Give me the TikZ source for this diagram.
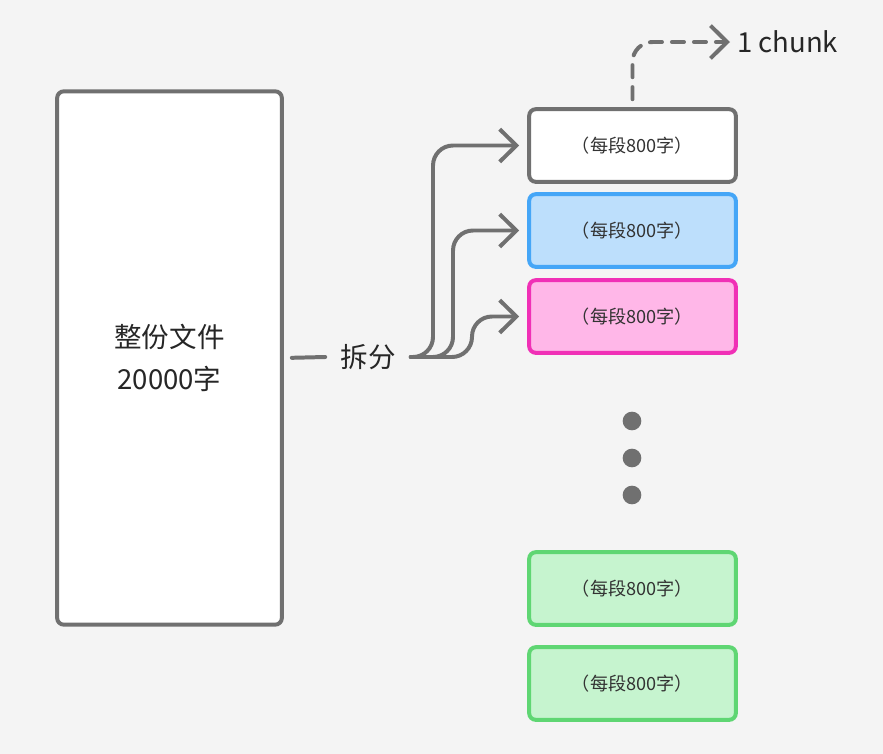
\documentclass[tikz,border=0pt]{standalone}
\usepackage{fontspec}
\setmainfont{Noto Sans CJK SC}
\usetikzlibrary{arrows.meta}
\definecolor{bgcol}{HTML}{F4F4F4}
\definecolor{linegray}{HTML}{707070}
\definecolor{txtgray}{HTML}{333333}
\definecolor{blueline}{HTML}{45A6F7}
\definecolor{bluefill}{HTML}{BDDFFC}
\definecolor{pinkline}{HTML}{F030B6}
\definecolor{pinkfill}{HTML}{FFB7E8}
\definecolor{greenline}{HTML}{5FD673}
\definecolor{greenfill}{HTML}{C6F4CF}
\begin{document}
\begin{tikzpicture}[x=0.03cm, y=-0.03cm,
  box/.style={draw=linegray, line width=3.4pt, rounded corners=0.2cm,
    minimum width=6.2cm, minimum height=2.18cm, inner sep=0pt,
    font=\fontsize{15.5}{18}\selectfont, text=txtgray},
  conn/.style={draw=linegray, line width=3.4pt, line cap=round, line join=round,
    -{Straight Barb[length=0.5cm,width=0.98cm]}},
  dot/.style={circle, fill=linegray, minimum size=0.56cm, inner sep=0pt}]
  \def\lab{（每段800字）} % chunk text
  \def\big{\fontsize{23.5}{36}\selectfont} % large text

  % BACKGROUND
  \fill[bgcol] (0,0) rectangle (883,754);

  % WHOLE FILE
  \node[box, fill=white, minimum width=6.74cm, minimum height=16.0cm,
    align=center, font=\big, text=black!85] (whole) at (169.5,358) {整份文件\\20000字};

  % SPLIT
  \node[inner xsep=0.45cm, font=\big, text=black!85] (split) at (368,357) {拆分};
  \draw[linegray, line width=3.4pt, line cap=round, shorten <=0.24cm] (whole.east) -- (split.west);

  % CHUNKS
  \node[box, fill=white]                     (c1) at (632.5,145.5) {\lab};
  \node[box, draw=blueline, fill=bluefill]   (c2) at (632.5,230.5) {\lab};
  \node[box, draw=pinkline, fill=pinkfill]   (c3) at (632.5,316.5) {\lab};
  \node[box, draw=greenline, fill=greenfill] (c4) at (632.5,588.5) {\lab};
  \node[box, draw=greenline, fill=greenfill] (c5) at (632.5,683.5) {\lab};

  % DOTS
  \foreach \y [count=\i] in {421,458,495}
    \node[dot] (dot\i) at (632,\y) {};

  % ARROWS
  \foreach \c/\x in {c1/433, c2/453, c3/472} {
    \coordinate (t\c) at (\x,0);
    \draw[conn, rounded corners=0.6cm, shorten >=0.24cm]
      (split.east) -| (t\c |- \c.west) -- (\c.west);
  }

  % ONE CHUNK
  \node[font=\big, text=black!85, anchor=west, inner sep=0.12cm] (one) at (733,42) {1 chunk};
  \draw[conn, dash pattern=on 0.36cm off 0.3cm, rounded corners=0.6cm,
    shorten <=0.24cm, shorten >=0.09cm] (c1.north) |- (one.west);

\end{tikzpicture}
\end{document}
